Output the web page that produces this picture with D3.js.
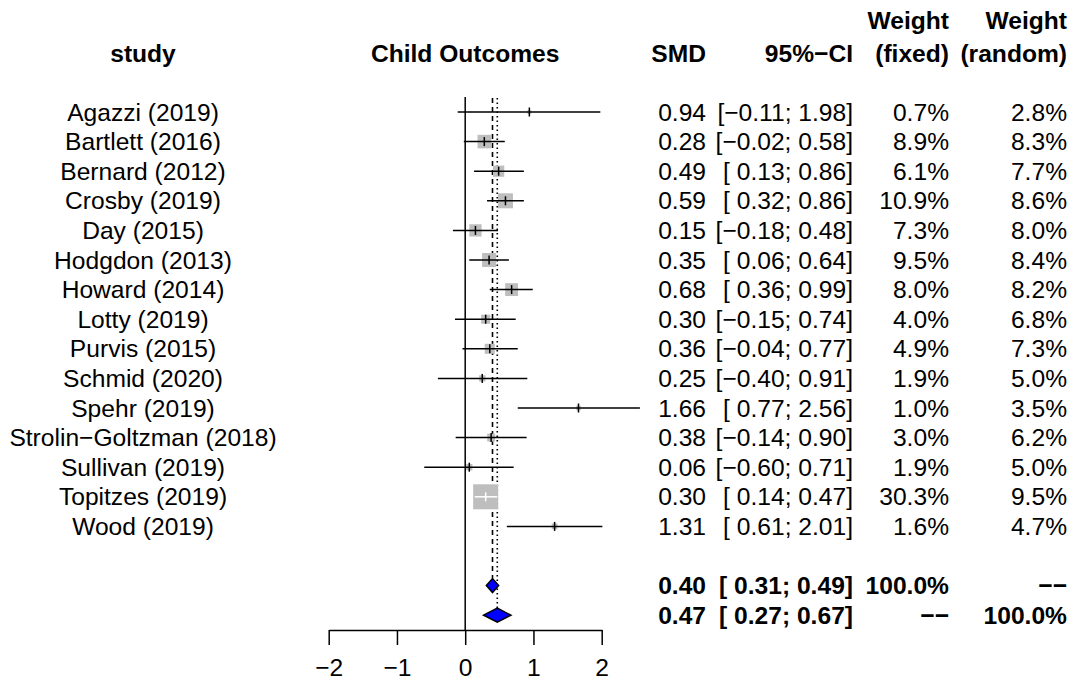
<!DOCTYPE html>
<html>
<head>
<meta charset="utf-8">
<script src="https://cdn.jsdelivr.net/npm/d3@7"></script>
<style>
  body { margin: 0; background: #fff; }
  text { font-family: "Liberation Sans", Arial, Helvetica, sans-serif; fill: #000; }
</style>
</head>
<body>
<div id="chart"></div>
<script>
// study data
var studies = ["Agazzi (2019)", "Bartlett (2016)", "Bernard (2012)", "Crosby (2019)", "Day (2015)",
  "Hodgdon (2013)", "Howard (2014)", "Lotty (2019)", "Purvis (2015)", "Schmid (2020)",
  "Spehr (2019)", "Strolin\u2212Goltzman (2018)", "Sullivan (2019)", "Topitzes (2019)", "Wood (2019)"];
var smd     = [0.94, 0.28, 0.49, 0.59, 0.15, 0.35, 0.68, 0.30, 0.36, 0.25, 1.66, 0.38, 0.06, 0.30, 1.31];
var lower   = [-0.11, -0.02, 0.13, 0.32, -0.18, 0.06, 0.36, -0.15, -0.04, -0.40, 0.77, -0.14, -0.60, 0.14, 0.61];
var upper   = [1.98, 0.58, 0.86, 0.86, 0.48, 0.64, 0.99, 0.74, 0.77, 0.91, 2.56, 0.90, 0.71, 0.47, 2.01];
var wFixed  = [0.7, 8.9, 6.1, 10.9, 7.3, 9.5, 8.0, 4.0, 4.9, 1.9, 1.0, 3.0, 1.9, 30.3, 1.6];
var wRandom = [2.8, 8.3, 7.7, 8.6, 8.0, 8.4, 8.2, 6.8, 7.3, 5.0, 3.5, 6.2, 5.0, 9.5, 4.7];

// pooled estimates: fixed effect, random effects
var pooledEst   = [0.40, 0.47];
var pooledLower = [0.31, 0.27];
var pooledUpper = [0.49, 0.67];
var pooledWFix  = ["100.0%", "\u2212\u2212"];
var pooledWRan  = ["\u2212\u2212", "100.0%"];

var xTicks = [-2, -1, 0, 1, 2];

var W = 1076, H = 682;
var fs = 24.6;
var svg = d3.select("#chart").append("svg")
  .attr("width", W).attr("height", H);

var x = d3.scaleLinear().domain([-2, 2]).range([328.7, 601.7]);
// row 0..14 studies, 16 fixed, 17 random
var y = d3.scaleLinear().domain([0, 17]).range([112, 615.2]);
var size = d3.scaleSqrt().domain([0, 30.3]).range([0, 25]);

var f2 = d3.format(".2f");
function num(v) { return f2(v).replace("-", "\u2212"); }
function ci(lo, hi) {
  return "[" + (lo < 0 ? "" : " ") + num(lo) + "; " + num(hi) + "]";
}

// column headers
var colSmd = 706, colCi = 853, colWf = 949, colWr = 1067;
var hdr = svg.append("g").attr("font-weight", "bold").style("font-size", fs + "px");
hdr.append("text").attr("x", 143).attr("y", 62).attr("text-anchor", "middle").text("study");
hdr.append("text").attr("x", x(0)).attr("y", 62).attr("text-anchor", "middle").text("Child Outcomes");
hdr.append("text").attr("x", colSmd).attr("y", 62).attr("text-anchor", "end").text("SMD");
hdr.append("text").attr("x", colCi).attr("y", 62).attr("text-anchor", "end").text("95%\u2212CI");
hdr.append("text").attr("x", colWf).attr("y", 29).attr("text-anchor", "end").text("Weight");
hdr.append("text").attr("x", colWf).attr("y", 62).attr("text-anchor", "end").text("(fixed)");
hdr.append("text").attr("x", colWr).attr("y", 29).attr("text-anchor", "end").text("Weight");
hdr.append("text").attr("x", colWr).attr("y", 62).attr("text-anchor", "end").text("(random)");

// reference lines
svg.append("line")
  .attr("x1", x(0)).attr("x2", x(0)).attr("y1", 97).attr("y2", 630)
  .attr("stroke", "#000").attr("stroke-width", 1.5);
svg.append("line")
  .attr("x1", x(pooledEst[0])).attr("x2", x(pooledEst[0]))
  .attr("y1", 98).attr("y2", y(16) - 7)
  .attr("stroke", "#000").attr("stroke-width", 1.6).attr("stroke-dasharray", "5,4");
svg.append("line")
  .attr("x1", x(pooledEst[1])).attr("x2", x(pooledEst[1]))
  .attr("y1", 98).attr("y2", y(17) - 7)
  .attr("stroke", "#000").attr("stroke-width", 1.6).attr("stroke-dasharray", "1.5,3");

// study rows
var rows = svg.selectAll("g.study").data(studies).enter().append("g").attr("class", "study");

rows.append("rect")
  .attr("x", function(d, i) { return x(smd[i]) - size(wFixed[i]) / 2; })
  .attr("y", function(d, i) { return y(i) - size(wFixed[i]) / 2; })
  .attr("width", function(d, i) { return size(wFixed[i]); })
  .attr("height", function(d, i) { return size(wFixed[i]); })
  .attr("fill", "#bebebe");

// CI drawn white when it sits fully inside the square
function inside(i) {
  var h = size(wFixed[i]) / 2;
  return x(lower[i]) >= x(smd[i]) - h && x(upper[i]) <= x(smd[i]) + h;
}
rows.append("line")
  .attr("x1", function(d, i) { return x(lower[i]); })
  .attr("x2", function(d, i) { return x(upper[i]); })
  .attr("y1", function(d, i) { return y(i); })
  .attr("y2", function(d, i) { return y(i); })
  .attr("stroke", function(d, i) { return inside(i) ? "#fff" : "#000"; })
  .attr("stroke-width", 1.5);
rows.append("line")
  .attr("x1", function(d, i) { return x(smd[i]); })
  .attr("x2", function(d, i) { return x(smd[i]); })
  .attr("y1", function(d, i) { return y(i) - 4.5; })
  .attr("y2", function(d, i) { return y(i) + 4.5; })
  .attr("stroke", function(d, i) { return inside(i) ? "#fff" : "#000"; })
  .attr("stroke-width", 1.5);

rows.append("text").attr("x", 143).attr("text-anchor", "middle")
  .attr("y", function(d, i) { return y(i) + 0.35 * fs; })
  .style("font-size", fs + "px").text(function(d) { return d; });
rows.append("text").attr("x", colSmd).attr("text-anchor", "end")
  .attr("y", function(d, i) { return y(i) + 0.35 * fs; })
  .style("font-size", fs + "px").text(function(d, i) { return num(smd[i]); });
rows.append("text").attr("x", colCi).attr("text-anchor", "end")
  .attr("y", function(d, i) { return y(i) + 0.35 * fs; })
  .style("font-size", fs + "px").style("white-space", "pre")
  .text(function(d, i) { return ci(lower[i], upper[i]); });
rows.append("text").attr("x", colWf).attr("text-anchor", "end")
  .attr("y", function(d, i) { return y(i) + 0.35 * fs; })
  .style("font-size", fs + "px").text(function(d, i) { return wFixed[i].toFixed(1) + "%"; });
rows.append("text").attr("x", colWr).attr("text-anchor", "end")
  .attr("y", function(d, i) { return y(i) + 0.35 * fs; })
  .style("font-size", fs + "px").text(function(d, i) { return wRandom[i].toFixed(1) + "%"; });

// pooled diamonds and text
var pooled = svg.selectAll("g.pooled").data(pooledEst).enter().append("g").attr("class", "pooled");
pooled.append("path")
  .attr("d", function(d, i) {
    var yy = y(16 + i);
    return "M" + x(pooledLower[i]) + "," + yy + "L" + x(d) + "," + (yy - 7) +
      "L" + x(pooledUpper[i]) + "," + yy + "L" + x(d) + "," + (yy + 7) + "Z";
  })
  .attr("fill", "#0000ff").attr("stroke", "#000").attr("stroke-width", 1.5);
pooled.append("text").attr("x", colSmd).attr("text-anchor", "end").attr("font-weight", "bold")
  .attr("y", function(d, i) { return y(16 + i) + 0.35 * fs; })
  .style("font-size", fs + "px").text(function(d) { return num(d); });
pooled.append("text").attr("x", colCi).attr("text-anchor", "end").attr("font-weight", "bold")
  .attr("y", function(d, i) { return y(16 + i) + 0.35 * fs; })
  .style("font-size", fs + "px").style("white-space", "pre")
  .text(function(d, i) { return ci(pooledLower[i], pooledUpper[i]); });
pooled.append("text").attr("x", colWf).attr("text-anchor", "end").attr("font-weight", "bold")
  .attr("y", function(d, i) { return y(16 + i) + 0.35 * fs; })
  .style("font-size", fs + "px").text(function(d, i) { return pooledWFix[i]; });
pooled.append("text").attr("x", colWr).attr("text-anchor", "end").attr("font-weight", "bold")
  .attr("y", function(d, i) { return y(16 + i) + 0.35 * fs; })
  .style("font-size", fs + "px").text(function(d, i) { return pooledWRan[i]; });

// x axis
var axis = svg.append("g").attr("transform", "translate(0,630)")
  .call(d3.axisBottom(x).tickValues(xTicks).tickSize(15).tickSizeOuter(0).tickPadding(31)
    .tickFormat(function(d) { return String(d).replace("-", "\u2212"); }));
axis.selectAll("path, line").attr("stroke", "#000").attr("stroke-width", 1.5);
axis.selectAll("text").attr("dy", null).style("font-size", fs + "px")
  .style("font-family", "'Liberation Sans', Arial, Helvetica, sans-serif").attr("fill", "#000");
</script>
</body>
</html>
